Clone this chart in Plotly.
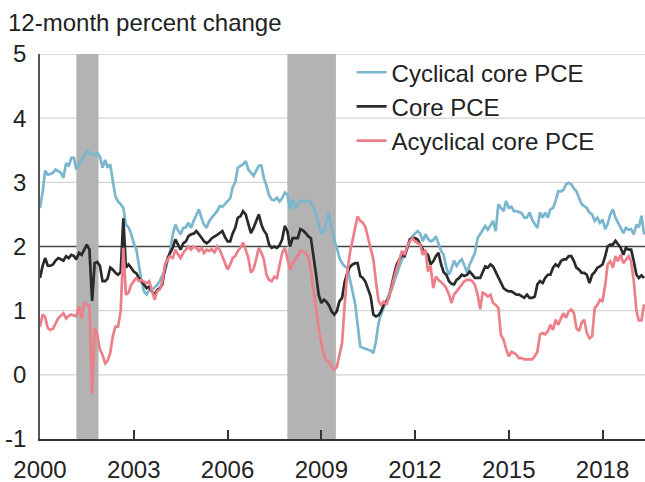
import pandas as pd
import plotly.graph_objects as go

# Monthly data, Jan 2000 - May 2019 (12-month percent change)
start_month = "2000-01-01"

cyclical = [
    2.60, 2.85, 3.18, 3.12, 3.13, 3.15, 3.20, 3.18, 3.15, 3.07, 3.30, 3.25,  # 2000
    3.38, 3.38, 3.20, 3.28, 3.35, 3.42, 3.49, 3.46, 3.44, 3.42, 3.46, 3.40,  # 2001
    3.23, 3.35, 3.23, 3.28, 3.02, 2.78, 2.70, 2.66, 2.60, 2.34, 2.30, 2.20,  # 2002
    2.05, 1.95, 1.72, 1.46, 1.30, 1.25, 1.33, 1.33, 1.36, 1.40, 1.46, 1.55,  # 2003
    1.61, 1.80, 1.93, 2.19, 2.34, 2.25, 2.19, 2.29, 2.30, 2.37, 2.29, 2.40,  # 2004
    2.50, 2.58, 2.45, 2.34, 2.29, 2.40, 2.45, 2.50, 2.55, 2.63, 2.62, 2.66,  # 2005
    2.71, 2.75, 2.92, 3.00, 3.23, 3.25, 3.28, 3.33, 3.20, 3.15, 3.10, 3.18,  # 2006
    3.26, 3.26, 3.07, 2.95, 2.80, 2.73, 2.72, 2.76, 2.70, 2.75, 2.84, 2.81,  # 2007
    2.58, 2.73, 2.60, 2.65, 2.71, 2.71, 2.70, 2.71, 2.70, 2.60, 2.50, 2.34,  # 2008
    2.21, 2.24, 2.37, 2.53, 2.29, 2.10, 1.98, 1.82, 1.74, 1.69, 1.67, 1.46,  # 2009
    1.30, 1.10, 0.80, 0.44, 0.42, 0.40, 0.39, 0.38, 0.34, 0.52, 0.81, 0.95,  # 2010
    1.04, 1.15, 1.25, 1.32, 1.45, 1.56, 1.68, 1.80, 1.85, 1.98, 2.08, 2.16,  # 2011
    2.20, 2.24, 2.20, 2.08, 2.19, 2.12, 2.08, 2.10, 2.16, 2.05, 1.93, 1.87,  # 2012
    1.67, 1.56, 1.65, 1.78, 1.70, 1.76, 1.80, 1.70, 1.59, 1.72, 1.80, 1.90,  # 2013
    2.13, 2.19, 2.24, 2.32, 2.26, 2.34, 2.40, 2.24, 2.66, 2.60, 2.55, 2.71,  # 2014
    2.60, 2.62, 2.55, 2.55, 2.53, 2.52, 2.45, 2.45, 2.53, 2.42, 2.35, 2.29,  # 2015
    2.53, 2.45, 2.53, 2.45, 2.58, 2.60, 2.71, 2.86, 2.86, 2.88, 2.97, 2.99,  # 2016
    2.97, 2.90, 2.86, 2.75, 2.66, 2.63, 2.60, 2.53, 2.50, 2.40, 2.45, 2.37,  # 2017
    2.42, 2.27, 2.35, 2.50, 2.58, 2.45, 2.38, 2.29, 2.21, 2.29, 2.26, 2.27,  # 2018
    2.19, 2.34, 2.30, 2.48, 2.19,                                            # 2019
]

core = [
    1.51, 1.70, 1.82, 1.70, 1.70, 1.72, 1.78, 1.82, 1.80, 1.78, 1.85, 1.82,  # 2000
    1.87, 1.85, 1.80, 1.90, 1.87, 1.95, 2.03, 1.95, 1.15, 1.74, 1.76, 1.70,  # 2001
    1.46, 1.46, 1.50, 1.67, 1.64, 1.59, 1.56, 1.60, 2.44, 1.67, 1.72, 1.67,  # 2002
    1.61, 1.58, 1.51, 1.46, 1.40, 1.35, 1.38, 1.30, 1.25, 1.32, 1.35, 1.41,  # 2003
    1.67, 1.82, 1.90, 1.98, 2.11, 2.03, 1.95, 2.05, 2.08, 2.16, 2.19, 2.20,  # 2004
    2.24, 2.19, 2.13, 2.08, 2.05, 2.08, 2.13, 2.15, 2.18, 2.21, 2.24, 2.15,  # 2005
    2.08, 2.08, 2.20, 2.29, 2.45, 2.47, 2.55, 2.50, 2.35, 2.21, 2.29, 2.40,  # 2006
    2.50, 2.34, 2.25, 2.19, 2.03, 1.98, 2.00, 1.98, 2.02, 2.11, 2.32, 2.24,  # 2007
    2.00, 2.13, 2.13, 2.13, 2.27, 2.25, 2.21, 2.16, 2.13, 1.87, 1.56, 1.25,  # 2008
    1.12, 1.17, 1.14, 1.08, 0.99, 0.94, 0.99, 1.15, 1.20, 1.45, 1.59, 1.68,  # 2009
    1.72, 1.74, 1.74, 1.54, 1.51, 1.45, 1.35, 1.22, 0.94, 0.91, 0.93, 0.99,  # 2010
    1.10, 1.14, 1.20, 1.41, 1.56, 1.72, 1.80, 1.87, 1.85, 1.98, 2.11, 2.13,  # 2011
    2.13, 2.11, 2.03, 1.95, 1.90, 1.87, 1.72, 1.77, 1.85, 1.90, 1.72, 1.60,  # 2012
    1.56, 1.46, 1.42, 1.41, 1.48, 1.51, 1.56, 1.54, 1.56, 1.61, 1.56, 1.51,  # 2013
    1.51, 1.51, 1.60, 1.69, 1.67, 1.72, 1.69, 1.61, 1.51, 1.45, 1.35, 1.32,  # 2014
    1.30, 1.30, 1.28, 1.25, 1.25, 1.22, 1.20, 1.25, 1.20, 1.20, 1.22, 1.41,  # 2015
    1.46, 1.43, 1.51, 1.56, 1.56, 1.67, 1.72, 1.69, 1.77, 1.80, 1.80, 1.85,  # 2016
    1.85, 1.77, 1.67, 1.64, 1.59, 1.59, 1.56, 1.43, 1.56, 1.60, 1.67, 1.69,  # 2017
    1.72, 1.85, 2.00, 2.03, 2.03, 2.09, 2.03, 1.98, 1.87, 1.98, 1.95, 1.95,  # 2018
    1.77, 1.56, 1.51, 1.55, 1.51,                                            # 2019
]

acyclical = [
    0.75, 0.94, 0.90, 0.73, 0.70, 0.72, 0.80, 0.88, 0.92, 0.96, 0.88, 0.92,  # 2000
    0.94, 0.92, 0.91, 1.07, 0.88, 1.12, 1.10, 1.07, -0.31, 0.73, 0.62, 0.40,  # 2001
    0.31, 0.18, 0.22, 0.34, 0.60, 0.75, 0.75, 0.99, 1.98, 1.25, 1.28, 1.40,  # 2002
    1.46, 1.51, 1.46, 1.48, 1.45, 1.43, 1.46, 1.30, 1.17, 1.30, 1.33, 1.45,  # 2003
    1.72, 1.80, 1.85, 1.82, 1.95, 1.88, 1.82, 1.90, 1.95, 2.00, 1.95, 2.00,  # 2004
    1.98, 1.93, 1.98, 1.90, 1.95, 1.93, 1.96, 1.90, 2.00, 1.95, 1.85, 1.75,  # 2005
    1.64, 1.72, 1.82, 1.85, 1.93, 1.98, 2.06, 1.95, 1.82, 1.59, 1.65, 1.80,  # 2006
    1.98, 1.90, 1.80, 1.56, 1.48, 1.46, 1.53, 1.51, 1.72, 1.90, 1.98, 1.82,  # 2007
    1.64, 1.74, 1.79, 1.85, 1.93, 1.93, 1.90, 1.85, 1.61, 1.30, 1.05, 0.73,  # 2008
    0.50, 0.30, 0.22, 0.20, 0.13, 0.08, 0.12, 0.30, 0.50, 1.10, 1.60, 1.90,  # 2009
    2.10, 2.30, 2.47, 2.40, 2.37, 2.30, 2.15, 1.98, 1.80, 1.46, 1.15, 1.09,  # 2010
    1.14, 1.09, 1.20, 1.35, 1.51, 1.65, 1.77, 1.93, 1.87, 2.00, 2.08, 2.13,  # 2011
    2.08, 2.05, 2.03, 1.87, 1.95, 1.61, 1.70, 1.35, 1.53, 1.48, 1.45, 1.41,  # 2012
    1.35, 1.25, 1.12, 1.25, 1.30, 1.35, 1.41, 1.46, 1.48, 1.48, 1.46, 1.40,  # 2013
    1.25, 1.02, 1.28, 1.26, 1.22, 1.25, 1.12, 1.09, 1.04, 0.62, 0.55, 0.40,  # 2014
    0.29, 0.36, 0.34, 0.31, 0.26, 0.26, 0.24, 0.24, 0.23, 0.24, 0.29, 0.36,  # 2015
    0.63, 0.65, 0.63, 0.68, 0.78, 0.70, 0.86, 0.78, 0.88, 0.96, 0.89, 0.99,  # 2016
    1.02, 0.96, 0.73, 0.68, 0.81, 0.86, 0.65, 0.57, 0.60, 1.04, 1.09, 1.17,  # 2017
    1.15, 1.40, 1.72, 1.77, 1.67, 1.85, 1.77, 1.87, 1.74, 1.79, 1.85, 1.77,  # 2018
    1.46, 1.00, 0.85, 0.85, 1.10,                                            # 2019
]

recessions = [("2001-03-01", "2001-11-15"), ("2007-12-01", "2009-06-20")]
y_ticks = [-1, 0, 1, 2, 3, 4, 5]
y_tick_labels = ["-1", "0", "1", "2", "3", "4", "5"]
x_tick_years = [2000, 2003, 2006, 2009, 2012, 2015, 2018]

dates = pd.date_range(start_month, periods=len(core), freq="MS")

FONT = "Liberation Sans, Arial, sans-serif"
fig = go.Figure()
fig.add_trace(go.Scatter(x=dates, y=cyclical, mode="lines", name="Cyclical core PCE",
                         line=dict(color="#7ab6ce", width=2.7)))
fig.add_trace(go.Scatter(x=dates, y=core, mode="lines", name="Core PCE",
                         line=dict(color="#2a2a2a", width=2.7)))
fig.add_trace(go.Scatter(x=dates, y=acyclical, mode="lines", name="Acyclical core PCE",
                         line=dict(color="#ec7f89", width=2.7)))

shapes = []
for v in y_ticks:
    if v == -1:
        continue
    shapes.append(dict(type="line", xref="paper", yref="y", x0=0, x1=1, y0=v, y1=v,
                       layer="below",
                       line=dict(color="#444444" if v == 2 else "#d4d4d4",
                                 width=1.6 if v == 2 else 1.3)))
for a, b in recessions:
    shapes.append(dict(type="rect", xref="x", yref="paper", x0=a, x1=b, y0=0, y1=1,
                       layer="below", fillcolor="#b3b3b3", line=dict(width=0)))

fig.update_layout(
    width=645, height=482,
    margin=dict(l=40, r=0, t=54, b=43, autoexpand=False),
    paper_bgcolor="white", plot_bgcolor="white",
    font=dict(family=FONT, size=24, color="#222222"),
    shapes=shapes,
    showlegend=True,
    legend=dict(x=0.515, y=1.010, xanchor="left", yanchor="top",
                bgcolor="rgba(0,0,0,0)", font=dict(size=24, color="#222222"),
                tracegroupgap=0, itemwidth=30),
    annotations=[dict(text="12-month percent change", xref="paper", yref="paper",
                      x=-0.056, y=1.083, xanchor="left", yanchor="middle",
                      showarrow=False, font=dict(size=24, color="#222222"))],
)
fig.update_xaxes(
    range=["2000-01-01", "2019-05-12"],
    tickvals=[pd.Timestamp(f"{y}-01-01") for y in x_tick_years],
    ticktext=[str(y) for y in x_tick_years],
    ticks="inside", ticklen=9, tickwidth=1.5, tickcolor="#333333",
    showline=True, linecolor="#333333", linewidth=1.6,
    showgrid=False, zeroline=False, ticklabelstandoff=8, automargin=False,
)
fig.update_yaxes(
    range=[-1, 5], tickvals=y_ticks, ticktext=y_tick_labels, ticks="",
    showline=True, linecolor="#555555", linewidth=1.6,
    showgrid=False, zeroline=False, ticklabelstandoff=7, automargin=False,
)

fig.write_html("out.html", config={"displayModeBar": False},
               post_script="document.body.style.margin='0';document.body.style.overflow='hidden';")
